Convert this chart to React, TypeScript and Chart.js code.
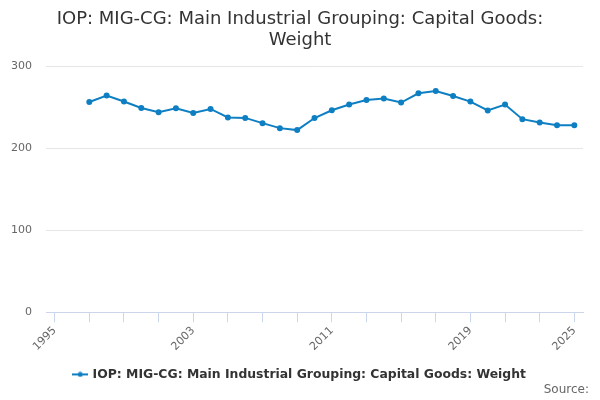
import { useEffect, useRef } from 'react'
import { Chart, registerables } from 'chart.js'

Chart.register(...registerables)

const YEARS = [
  1997, 1998, 1999, 2000, 2001, 2002, 2003, 2004, 2005, 2006,
  2007, 2008, 2009, 2010, 2011, 2012, 2013, 2014, 2015, 2016,
  2017, 2018, 2019, 2020, 2021, 2022, 2023, 2024, 2025,
]
const WEIGHT = [
  256.3, 264.1, 256.8, 249.0, 243.8, 248.7, 243.0, 247.8, 237.4, 236.9,
  230.5, 224.4, 222.0, 236.7, 246.2, 253.2, 258.7, 260.4, 255.6, 266.9,
  269.7, 263.6, 256.8, 245.9, 253.2, 235.3, 231.3, 228.0, 228.0,
]
const TICK_YEARS = [
  1995, 1997, 1999, 2001, 2003, 2005, 2007, 2009,
  2011, 2013, 2015, 2017, 2019, 2021, 2023, 2025,
]
const LABELED_YEARS = [1995, 2003, 2011, 2019, 2025]
const Y_TICKS = [0, 100, 200, 300]

const TITLE = ['IOP: MIG-CG: Main Industrial Grouping: Capital Goods:', 'Weight']
const SERIES_NAME = 'IOP: MIG-CG: Main Industrial Grouping: Capital Goods: Weight'
const CREDIT = 'Source:'
const LINE_COLOR = '#0e7fc2'
const FONT = "'DejaVu Sans', sans-serif"

// little line-with-dot marker for the legend
function legendMarker() {
  const c = document.createElement('canvas')
  c.width = 16
  c.height = 6
  const g = c.getContext('2d')
  if (g) {
    g.strokeStyle = LINE_COLOR
    g.lineWidth = 2
    g.beginPath()
    g.moveTo(0, 3)
    g.lineTo(16, 3)
    g.stroke()
    g.fillStyle = LINE_COLOR
    g.beginPath()
    g.arc(8, 3, 2.5, 0, Math.PI * 2)
    g.fill()
  }
  return c
}

// "Source:" credit in the bottom right corner
const creditPlugin = {
  id: 'credit',
  afterDraw(chart: Chart) {
    const g = chart.ctx
    g.save()
    g.fillStyle = '#666666'
    g.font = `12px ${FONT}`
    g.textAlign = 'right'
    g.textBaseline = 'middle'
    g.fillText(CREDIT, chart.width - 11, 390)
    g.restore()
  },
}

export default function App() {
  const canvasRef = useRef<HTMLCanvasElement>(null)

  useEffect(() => {
    if (!canvasRef.current) return
    const ctx = canvasRef.current.getContext('2d')
    if (!ctx) return

    const marker = legendMarker()

    const chart = new Chart(ctx, {
      type: 'line',
      data: {
        datasets: [
          {
            label: SERIES_NAME,
            data: YEARS.map((year, i) => ({ x: year, y: WEIGHT[i] })),
            borderColor: LINE_COLOR,
            backgroundColor: LINE_COLOR,
            borderWidth: 2,
            pointRadius: 2,
            pointHoverRadius: 3,
            pointStyle: 'circle',
            tension: 0,
          },
        ],
      },
      options: {
        animation: false,
        responsive: true,
        maintainAspectRatio: false,
        layout: { padding: { left: 0, right: 0, top: 0, bottom: 9.4 } },
        scales: {
          x: {
            type: 'linear',
            min: 1994.5,
            max: 2025.5,
            afterBuildTicks: (scale: any) => {
              scale.ticks = TICK_YEARS.map(v => ({ value: v }))
            },
            afterFit: (scale: any) => {
              scale.height = 48
            },
            ticks: {
              autoSkip: false,
              maxRotation: 45,
              minRotation: 45,
              color: '#666666',
              padding: 2,
              font: { size: 11, family: FONT },
              callback: (v: any) => (LABELED_YEARS.includes(Number(v)) ? String(v) : ''),
            },
            grid: {
              display: true,
              drawOnChartArea: false,
              drawTicks: true,
              tickLength: 10,
              color: '#ccd6eb',
            },
            border: { display: true, color: '#ccd6eb' },
          },
          y: {
            min: 0,
            max: 300,
            afterBuildTicks: (scale: any) => {
              scale.ticks = Y_TICKS.map(v => ({ value: v }))
            },
            afterFit: (scale: any) => {
              scale.width = 46
            },
            ticks: {
              color: '#666666',
              padding: 14,
              font: { size: 11, family: FONT },
            },
            grid: { color: '#e6e6e6', drawTicks: false },
            border: { display: false },
          },
          // empty axis on the right, only to keep the plot's right margin
          spacer: {
            type: 'linear',
            position: 'right',
            display: true,
            ticks: { display: false },
            grid: { display: false, drawTicks: false },
            border: { display: false },
            afterFit: (scale: any) => {
              scale.width = 17
            },
          },
        },
        plugins: {
          title: {
            display: true,
            text: TITLE,
            color: '#333333',
            font: { size: 18, family: FONT, weight: 'normal', lineHeight: 1.17 },
            padding: { top: 9, bottom: 15 },
          },
          legend: {
            display: true,
            position: 'bottom',
            labels: {
              usePointStyle: true,
              pointStyle: marker as any,
              color: '#333333',
              font: { size: 12.4, family: FONT, weight: 'bold' },
              padding: 8,
            },
            onClick: () => {},
          },
          tooltip: { enabled: false },
        },
      } as any,
      plugins: [creditPlugin],
    })

    return () => {
      chart.destroy()
    }
  }, [])

  return (
    <div style={{ position: 'absolute', left: 0, top: 0, width: 600, height: 400, background: '#ffffff' }}>
      <canvas ref={canvasRef} />
    </div>
  )
}
